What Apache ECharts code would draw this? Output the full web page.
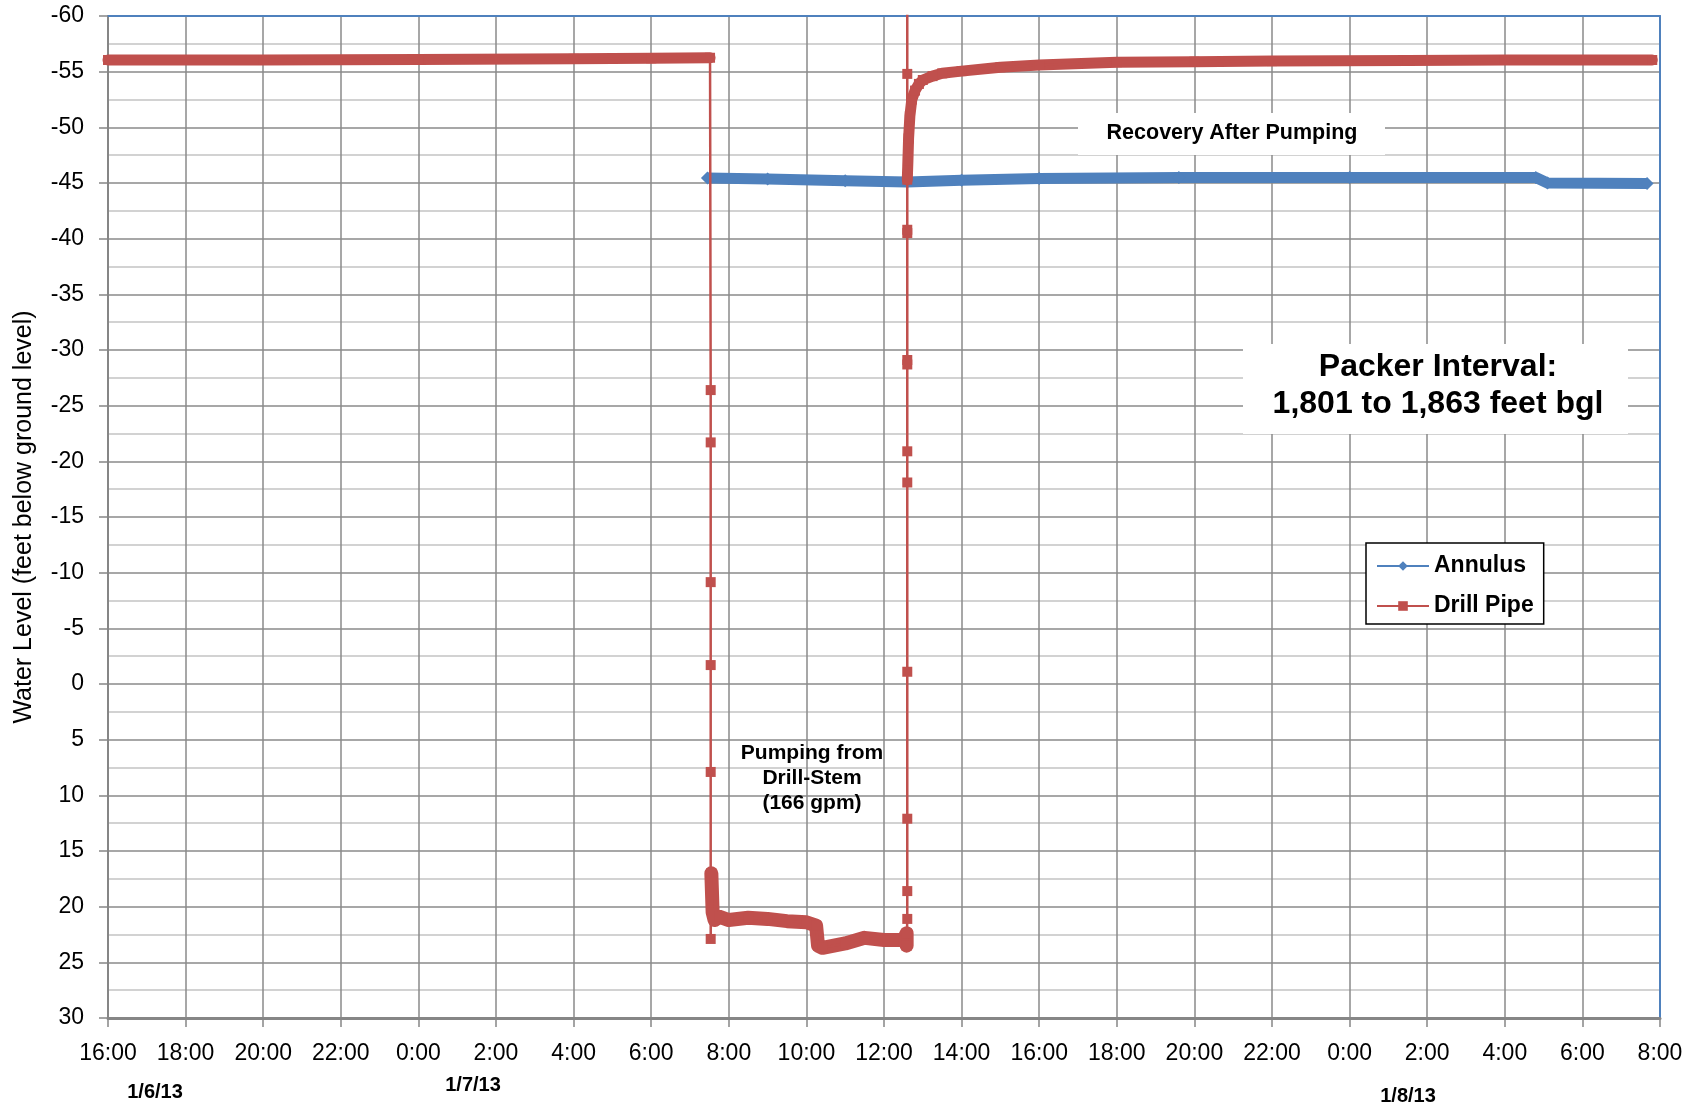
<!DOCTYPE html>
<html><head><meta charset="utf-8">
<script src="https://cdn.jsdelivr.net/npm/echarts@6/dist/echarts.min.js"></script>
<style>html,body{margin:0;padding:0;background:#fff}#chart{width:1698px;height:1106px}</style>
</head><body><div id="chart"></div>
<script>
// ---------- data ----------
const START = '2013-01-06T16:00';
const xTickLabels = ['16:00','18:00','20:00','22:00','0:00','2:00','4:00','6:00','8:00','10:00','12:00',
  '14:00','16:00','18:00','20:00','22:00','0:00','2:00','4:00','6:00','8:00'];
const dateLabels = ['1/6/13', '1/7/13', '1/8/13'];

const annulusTimes = ['2013-01-07T07:27','2013-01-07T09:00','2013-01-07T11:00','2013-01-07T12:36',
  '2013-01-07T14:00','2013-01-07T16:00','2013-01-07T19:36','2013-01-08T00:00','2013-01-08T04:48',
  '2013-01-08T05:06','2013-01-08T07:40'];
const annulusLevels = [-45.45,-45.35,-45.2,-45.1,-45.25,-45.4,-45.5,-45.5,-45.5,-45.0,-44.95];

// Drill pipe: static level before pumping
const drillPreTimes = ['2013-01-06T16:00','2013-01-06T20:00','2013-01-07T00:00','2013-01-07T04:00',
  '2013-01-07T06:00','2013-01-07T07:31'];
const drillPreLevels = [-56.05,-56.05,-56.1,-56.15,-56.2,-56.25];
// drawdown when pumping starts
const drillDropTimes = ['2013-01-07T07:32','2013-01-07T07:32','2013-01-07T07:32','2013-01-07T07:32',
  '2013-01-07T07:32','2013-01-07T07:32'];
const drillDropLevels = [-26.4,-21.7,-9.15,-1.7,7.9,22.9];
// during pumping
const drillPumpTimes = ['2013-01-07T07:33','2013-01-07T07:35','2013-01-07T07:38','2013-01-07T07:45',
  '2013-01-07T08:00','2013-01-07T08:30','2013-01-07T09:00','2013-01-07T09:30','2013-01-07T10:00',
  '2013-01-07T10:15','2013-01-07T10:18','2013-01-07T10:25','2013-01-07T11:00','2013-01-07T11:30',
  '2013-01-07T12:00','2013-01-07T12:30','2013-01-07T12:35','2013-01-07T12:35'];
const drillPumpLevels = [17.0,20.5,21.2,20.9,21.2,21.0,21.1,21.3,21.4,21.7,23.5,23.7,23.3,22.8,23.0,23.0,22.4,23.5];
// rise when pumping stops
const drillRiseTimes = ['2013-01-07T12:36','2013-01-07T12:36','2013-01-07T12:36','2013-01-07T12:36',
  '2013-01-07T12:36','2013-01-07T12:36','2013-01-07T12:36','2013-01-07T12:36','2013-01-07T12:36',
  '2013-01-07T12:36','2013-01-07T12:36','2013-01-07T12:36'];
const drillRiseLevels = [21.1,18.6,12.1,-1.1,-18.1,-20.9,-28.7,-29.1,-40.5,-40.8,-54.8,-62];
// recovery
const drillRecTimes = ['2013-01-07T12:36','2013-01-07T12:37','2013-01-07T12:38','2013-01-07T12:40',
  '2013-01-07T12:43','2013-01-07T12:48','2013-01-07T12:54','2013-01-07T13:00','2013-01-07T13:15',
  '2013-01-07T13:30','2013-01-07T14:00','2013-01-07T15:00','2013-01-07T16:00','2013-01-07T18:00',
  '2013-01-07T20:00','2013-01-07T22:00','2013-01-08T01:30','2013-01-08T04:00','2013-01-08T07:48'];
const drillRecLevels = [-45.3,-47.0,-49.0,-51.0,-52.5,-53.3,-53.9,-54.25,-54.6,-54.85,-55.05,-55.4,
  -55.6,-55.85,-55.9,-55.95,-56.0,-56.05,-56.05];

// ---------- helpers ----------
function hours(t) { return (Date.parse(t) - Date.parse(START)) / 3600000; }
function pairs(times, levels) { return times.map((t, i) => [hours(t), levels[i]]); }

const RED = '#c0504d', BLUE = '#4f81bd';
const FONT = "'Liberation Sans', Arial, sans-serif";

const drillAll = [].concat(
  pairs(drillPreTimes, drillPreLevels), pairs(drillDropTimes, drillDropLevels),
  pairs(drillPumpTimes, drillPumpLevels), pairs(drillRiseTimes, drillRiseLevels),
  pairs(drillRecTimes, drillRecLevels));

function bandSeries(data, w) {
  return { name: 'Drill Pipe', type: 'line', data: data, symbol: 'none', z: 3,
    lineStyle: { color: RED, width: w, cap: 'round', join: 'round' }, itemStyle: { color: RED },
    animation: false, silent: true };
}

const chart = echarts.init(document.getElementById('chart'));
chart.setOption({
  animation: false,
  backgroundColor: '#fff',
  grid: { left: 108, right: 38, top: 16, bottom: 88, containLabel: false },
  xAxis: [{
    type: 'value', min: 0, max: 40, interval: 2,
    axisLine: { show: true, onZero: false, lineStyle: { color: '#868686', width: 3 } },
    axisTick: { show: true, length: 9, lineStyle: { color: '#868686', width: 1.5 } },
    axisLabel: { margin: 24, fontSize: 23, color: '#000', fontFamily: FONT,
      formatter: v => xTickLabels[Math.round(v / 2)] },
    splitLine: { show: true, lineStyle: { color: '#8a8a8a', width: 1.5 } }
  }, {
    type: 'value', position: 'top', min: 0, max: 40, interval: 2,
    axisLine: { show: true, onZero: false, lineStyle: { color: BLUE, width: 2 } },
    axisTick: { show: false }, axisLabel: { show: false }, splitLine: { show: false }
  }],
  yAxis: [{
    type: 'value', min: -60, max: 30, interval: 5, inverse: true,
    name: 'Water Level (feet below ground level)', nameLocation: 'middle', nameGap: 71,
    nameTextStyle: { fontSize: 25, color: '#000', fontFamily: FONT },
    axisLine: { show: true, onZero: false, lineStyle: { color: '#868686', width: 2 } },
    axisTick: { show: true, length: 9, lineStyle: { color: '#868686', width: 1.5 } },
    axisLabel: { margin: 24, fontSize: 23, color: '#000', fontFamily: FONT },
    splitLine: { show: true, lineStyle: { color: '#8a8a8a', width: 1.5 } },
    minorTick: { show: false, splitNumber: 2 },
    minorSplitLine: { show: true, lineStyle: { color: '#c4c4c4', width: 1.5 } }
  }, {
    type: 'value', position: 'right', min: -60, max: 30, interval: 5, inverse: true,
    axisLine: { show: true, onZero: false, lineStyle: { color: BLUE, width: 2 } },
    axisTick: { show: false }, axisLabel: { show: false }, splitLine: { show: false }
  }],
  legend: {
    orient: 'vertical', left: 1366, top: 543,
    data: ['Annulus', 'Drill Pipe'],
    itemWidth: 52, itemHeight: 12, itemGap: 16, padding: [11, 10, 6, 10],
    backgroundColor: '#fff', borderColor: '#000', borderWidth: 1.5,
    lineStyle: { width: 2 },
    textStyle: { fontSize: 23, fontWeight: 'bold', color: '#000', fontFamily: FONT, lineHeight: 24 }
  },
  series: [
    { name: 'Annulus', type: 'line', data: pairs(annulusTimes, annulusLevels), z: 2,
      symbol: 'diamond', symbolSize: 13, showAllSymbol: true,
      lineStyle: { color: BLUE, width: 11, join: 'round' }, itemStyle: { color: BLUE } },
    { name: 'Drill Pipe', type: 'line', data: drillAll, z: 4,
      symbol: 'rect', symbolSize: 10, showAllSymbol: true,
      lineStyle: { color: RED, width: 2.5 }, itemStyle: { color: RED } },
    bandSeries(pairs(drillPreTimes, drillPreLevels), 11),
    bandSeries(pairs(drillPumpTimes, drillPumpLevels), 14),
    bandSeries(pairs(drillRecTimes, drillRecLevels), 11)
  ],
  graphic: [
    { type: 'rect', shape: { x: 1078, y: 113, width: 307, height: 42 }, style: { fill: '#fff' }, z: 10 },
    { type: 'text', x: 1232, y: 133, z: 11,
      style: { text: 'Recovery After Pumping', fill: '#000', font: 'bold 21.5px ' + FONT, align: 'center', verticalAlign: 'middle' } },
    { type: 'rect', shape: { x: 1243, y: 344, width: 385, height: 90 }, style: { fill: '#fff' }, z: 10 },
    { type: 'text', x: 1438, y: 367, z: 11,
      style: { text: 'Packer Interval:', fill: '#000', font: 'bold 32px ' + FONT, align: 'center', verticalAlign: 'middle' } },
    { type: 'text', x: 1438, y: 404, z: 11,
      style: { text: '1,801 to 1,863 feet bgl', fill: '#000', font: 'bold 32px ' + FONT, align: 'center', verticalAlign: 'middle' } },
    { type: 'text', x: 812, y: 778, z: 11,
      style: { text: 'Pumping from\nDrill-Stem\n(166 gpm)', fill: '#000', font: 'bold 21px ' + FONT,
        lineHeight: 25, align: 'center', verticalAlign: 'middle' } },
    { type: 'text', x: 155, y: 1092, z: 11,
      style: { text: dateLabels[0], fill: '#000', font: 'bold 20px ' + FONT, align: 'center', verticalAlign: 'middle' } },
    { type: 'text', x: 473, y: 1085, z: 11,
      style: { text: dateLabels[1], fill: '#000', font: 'bold 20px ' + FONT, align: 'center', verticalAlign: 'middle' } },
    { type: 'text', x: 1408, y: 1096, z: 11,
      style: { text: dateLabels[2], fill: '#000', font: 'bold 20px ' + FONT, align: 'center', verticalAlign: 'middle' } }
  ]
});
</script></body></html>
